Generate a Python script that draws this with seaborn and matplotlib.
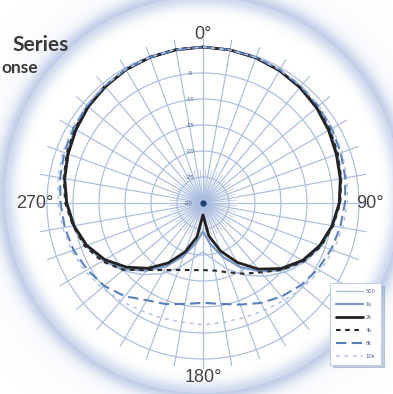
import numpy as np
import matplotlib
matplotlib.use("Agg")
import matplotlib.pyplot as plt
import seaborn as sns

# Polar response, dB relative to on-axis, sampled every 10 degrees (0..350)
angles_deg = list(range(0, 360, 10))

resp_500 = [0.0, -0.1, -0.2, -0.5, -0.8, -1.3, -1.8, -2.4, -3.0, -3.6,
            -4.5, -5.7, -7.3, -9.3, -11.6, -14.0, -16.5, -19.0, -20.6, -19.2,
            -16.8, -14.3, -12.0, -9.8, -7.8, -6.0, -4.6, -3.6, -2.8, -2.1,
            -1.5, -1.0, -0.6, -0.3, -0.1, 0.0]
resp_1k = [0.0, -0.1, -0.3, -0.5, -0.9, -1.4, -1.9, -2.5, -3.1, -3.7,
           -4.7, -5.9, -7.7, -10.0, -12.8, -15.8, -19.0, -22.0, -24.5, -22.2,
           -19.2, -16.0, -13.0, -10.2, -7.9, -6.0, -4.7, -3.7, -2.9, -2.2,
           -1.6, -1.1, -0.7, -0.4, -0.2, 0.0]
resp_2k = [0.0, -0.1, -0.3, -0.6, -1.0, -1.5, -2.1, -2.7, -3.2, -3.8,
           -4.8, -6.1, -7.9, -10.4, -13.4, -16.8, -20.2, -23.6, -27.7, -23.4,
           -20.0, -16.7, -13.6, -10.8, -8.2, -6.2, -4.8, -3.8, -3.0, -2.4,
           -1.8, -1.2, -0.8, -0.4, -0.2, -0.1]
resp_4k = [0.0, -0.1, -0.2, -0.5, -0.9, -1.3, -1.8, -2.4, -3.0, -3.6,
           -4.6, -5.8, -7.6, -10.0, -12.6, -14.3, -15.8, -16.8, -17.1, -16.9,
           -16.3, -15.1, -13.2, -10.0, -7.6, -5.8, -4.6, -3.5, -2.8, -2.1,
           -1.5, -1.0, -0.6, -0.3, -0.1, 0.0]
resp_8k = [0.0, -0.1, -0.2, -0.4, -0.7, -1.0, -1.4, -1.8, -2.2, -2.7,
           -3.2, -3.8, -4.5, -5.4, -6.5, -7.8, -9.2, -10.3, -10.8, -10.3,
           -9.3, -8.4, -6.6, -5.2, -4.3, -3.5, -3.0, -2.6, -2.1, -1.6,
           -1.2, -0.9, -0.6, -0.3, -0.2, -0.1]
resp_10k = [0.0, -0.1, -0.2, -0.4, -0.6, -0.9, -1.2, -1.5, -1.9, -2.2,
            -2.7, -3.3, -4.0, -4.8, -5.6, -6.2, -6.6, -6.7, -6.6, -6.7,
            -6.5, -6.1, -5.4, -4.6, -3.8, -3.1, -2.6, -2.1, -1.7, -1.3,
            -1.0, -0.7, -0.5, -0.3, -0.1, 0.0]

series_labels = ["500", "1k", "2k", "4k", "8k", "10k"]
series_values = [resp_500, resp_1k, resp_2k, resp_4k, resp_8k, resp_10k]

ring_levels = [-5, -10, -15, -20, -25, -30]
angle_labels = ["0°", "90°", "180°", "270°"]

# line styling per frequency
colors = ["#a9bde0", "#7c98c8", "#222222", "#2a2a2a", "#5a7fbd", "#b3c4e3"]
widths = [1.0, 1.6, 2.0, 1.5, 1.5, 1.1]
styles = ["-", "-", "-", (0, (2.2, 2.2)), (0, (5, 2.5)), (0, (2.5, 3))]

W, H = 393, 394
fig = plt.figure(figsize=(W / 100, H / 100), dpi=100)
sns.set_style("white")
plt.rcParams["font.family"] = ["Liberation Sans", "DejaVu Sans"]

# --- background: soft halo ring and the glow at the pole
bg = fig.add_axes([0, 0, 1, 1], zorder=0)
bg.set_xlim(0, W)
bg.set_ylim(H, 0)
bg.axis("off")
yy, xx = np.mgrid[0:H, 0:W] + 0.5
d_halo = np.hypot(xx - 203, yy - 195)
halo = 0.34 * np.exp(-0.5 * ((d_halo - 198) / 7.0) ** 2)
halo += np.where(d_halo > 198, 0.12 * np.exp(-(d_halo - 198) / 20.0), 0)
d_c = np.hypot(xx - 203, yy - 203)
glow = 0.42 * np.exp(-0.5 * (d_c / 9.0) ** 2)
alpha = np.clip(halo + glow, 0, 1)
rgba = np.zeros((H, W, 4))
rgba[..., 0] = 0.47
rgba[..., 1] = 0.58
rgba[..., 2] = 0.80
rgba[..., 3] = alpha
bg.imshow(rgba, extent=(0, W, H, 0), interpolation="bilinear")

# --- polar response chart
r0, px_per_db, rmax_db = 156.0, 5.2, 2.0
rmax_px = r0 + px_per_db * rmax_db
cx, cy = 203, H - 203
ax = fig.add_axes([(cx - rmax_px) / W, (cy - rmax_px) / H,
                   2 * rmax_px / W, 2 * rmax_px / H],
                  projection="polar", zorder=1)
ax.patch.set_alpha(0)
ax.set_theta_zero_location("N")
ax.set_theta_direction(-1)
ax.set_ylim(-30, rmax_db)
ax.grid(False)
ax.set_xticks([])
ax.set_yticks([])
ax.spines["polar"].set_visible(False)

grid_col = "#aabddf"
full = np.linspace(0, 2 * np.pi, 361)
for lev in ring_levels[:-1] + [0]:
    ax.plot(full, np.full_like(full, lev), color=grid_col, lw=0.85, zorder=1)
for a in range(0, 360, 10):
    t = np.deg2rad(a)
    ax.plot([t, t], [-30, 1.8], color=grid_col, lw=0.85, zorder=1)
for a in range(5, 360, 10):
    t = np.deg2rad(a)
    ax.plot([t, t], [-30, -23.5], color=grid_col, lw=0.6, alpha=0.8, zorder=1)

theta_closed = np.deg2rad(angles_deg + [360])
for lab, vals, c, lw, ls in zip(series_labels, series_values, colors, widths, styles):
    sns.lineplot(x=theta_closed, y=list(vals) + [vals[0]], ax=ax, color=c,
                 linewidth=lw, linestyle=ls, label=lab, sort=False, zorder=3)
ax.set_xlabel("")
ax.set_ylabel("")

# pole marker
ax.plot([0], [-30], "o", ms=3.5, color="#1f3f7a", zorder=4)

# ring labels, just left of the 0-degree spoke
for lev in ring_levels:
    rp = r0 + px_per_db * lev
    if rp < 1:
        th, rr = -np.pi / 2, 15.0
    else:
        th, rr = -np.arctan2(13.0, rp), np.hypot(rp, 13.0)
    ax.text(th, -30 + rr / px_per_db, str(lev), fontsize=4.3, color="#4f6189",
            ha="center", va="center", zorder=2)

# compass labels
label_pos = [(0, 169), (90, 167), (180, 175), (270, 168)]
for lab, (a, rp) in zip(angle_labels, label_pos):
    ax.text(np.deg2rad(a), -30 + rp / px_per_db, lab, fontsize=13, color="#444444",
            ha="center", va="center", zorder=5)

leg = ax.legend(loc="upper left", bbox_to_anchor=(330 / W, 1 - 283 / H),
                bbox_transform=fig.transFigure, borderaxespad=0,
                fontsize=4.2, handlelength=4.6, handletextpad=0.5,
                labelspacing=1.35, borderpad=1.0, frameon=True, fancybox=False,
                edgecolor="#c3cde0", framealpha=1.0,
                shadow={"color": "#7f97c4", "alpha": 0.45})
leg.get_frame().set_linewidth(0.8)
leg.set_zorder(6)
for t in leg.get_texts():
    t.set_color("#5a6a8a")

# heading fragments at the upper-left edge
fig.text(69 / W, 1 - 45 / H, "Series", fontsize=15, fontweight="bold",
         family=["Lato", "DejaVu Sans"], color="#3a3a3a", ha="right", va="center")
fig.text(1 / W, 1 - 68 / H, "onse", fontsize=12.5, fontweight="bold",
         family=["Lato", "DejaVu Sans"], color="#3a3a3a", ha="left", va="center")

fig.savefig("out.png", dpi=100)
